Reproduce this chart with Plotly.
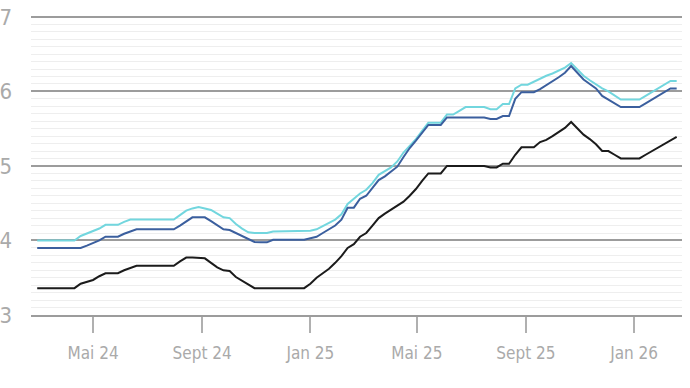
import pandas as pd
import plotly.graph_objects as go

# Weekly observations (starting 28 Feb 2024)
start_date = "2024-02-28"
n_weeks = 104
dates = pd.date_range(start_date, periods=n_weeks, freq="7D")

black_vals = [
    3.36, 3.36, 3.36, 3.36, 3.36, 3.36, 3.36, 3.42, 3.45, 3.47,
    3.52, 3.56, 3.56, 3.56, 3.60, 3.63, 3.66, 3.66, 3.66, 3.66,
    3.66, 3.66, 3.66, 3.72, 3.77, 3.77, 3.77, 3.76, 3.70, 3.64,
    3.60, 3.59, 3.51, 3.46, 3.41, 3.36, 3.36, 3.36, 3.36, 3.36,
    3.36, 3.36, 3.36, 3.36, 3.42, 3.50, 3.56, 3.62, 3.70, 3.79,
    3.90, 3.95, 4.05, 4.10, 4.20, 4.30, 4.36, 4.41, 4.46, 4.52,
    4.60, 4.69, 4.80, 4.90, 4.90, 4.90, 5.00, 5.00, 5.00, 5.00,
    5.00, 5.00, 5.00, 4.98, 4.98, 5.03, 5.03, 5.15, 5.25, 5.25,
    5.25, 5.32, 5.35, 5.40, 5.45, 5.51, 5.59, 5.50, 5.42, 5.36,
    5.29, 5.20, 5.20, 5.15, 5.10, 5.10, 5.10, 5.10, 5.15, 5.20,
    5.25, 5.30, 5.35, 5.39,
]

blue_vals = [
    3.90, 3.90, 3.90, 3.90, 3.90, 3.90, 3.90, 3.90, 3.93, 3.96,
    4.00, 4.05, 4.05, 4.05, 4.09, 4.12, 4.15, 4.15, 4.15, 4.15,
    4.15, 4.15, 4.15, 4.20, 4.26, 4.31, 4.31, 4.31, 4.26, 4.20,
    4.15, 4.14, 4.10, 4.06, 4.02, 3.98, 3.975, 3.975, 4.01, 4.01,
    4.01, 4.01, 4.01, 4.01, 4.03, 4.05, 4.10, 4.15, 4.20, 4.28,
    4.44, 4.44, 4.56, 4.60, 4.70, 4.81, 4.86, 4.92, 4.99, 5.12,
    5.24, 5.34, 5.45, 5.55, 5.55, 5.55, 5.65, 5.65, 5.65, 5.65,
    5.65, 5.65, 5.65, 5.63, 5.63, 5.67, 5.67, 5.90, 5.99, 5.99,
    5.99, 6.03, 6.08, 6.14, 6.19, 6.25, 6.34, 6.25, 6.16, 6.10,
    6.04, 5.94, 5.89, 5.84, 5.79, 5.79, 5.79, 5.79, 5.84, 5.89,
    5.94, 5.99, 6.04, 6.04,
]

cyan_vals = [
    4.00, 4.00, 4.00, 4.00, 4.00, 4.00, 4.00, 4.06, 4.09, 4.12,
    4.16, 4.21, 4.21, 4.21, 4.25, 4.28, 4.28, 4.28, 4.28, 4.28,
    4.28, 4.28, 4.28, 4.34, 4.40, 4.43, 4.45, 4.43, 4.41, 4.36,
    4.31, 4.30, 4.22, 4.16, 4.11, 4.10, 4.10, 4.10, 4.12, 4.12,
    4.12, 4.12, 4.12, 4.12, 4.13, 4.15, 4.19, 4.23, 4.28, 4.35,
    4.49, 4.56, 4.63, 4.68, 4.77, 4.88, 4.93, 4.98, 5.06, 5.18,
    5.27, 5.36, 5.47, 5.58, 5.58, 5.58, 5.69, 5.69, 5.74, 5.79,
    5.79, 5.79, 5.79, 5.76, 5.76, 5.83, 5.83, 6.04, 6.09, 6.09,
    6.13, 6.18, 6.21, 6.24, 6.28, 6.32, 6.38, 6.30, 6.21, 6.15,
    6.09, 6.04, 6.00, 5.95, 5.89, 5.89, 5.89, 5.89, 5.94, 5.99,
    6.04, 6.09, 6.14, 6.14,
]

x_tick_vals = ["2024-05-01", "2024-09-01", "2025-01-01", "2025-05-01", "2025-09-01", "2026-01-01"]
x_tick_text = ["Mai 24", "Sept 24", "Jan 25", "Mai 25", "Sept 25", "Jan 26"]
y_tick_vals = [3, 4, 5, 6, 7]
y_tick_text = ["3", "4", "5", "6", "7"]

FONT = "DejaVu Sans Condensed, Roboto, sans-serif"

fig = go.Figure()
fig.add_trace(go.Scatter(x=dates, y=cyan_vals, mode="lines",
                         line=dict(color="#72d6de", width=2), name="cyan"))
fig.add_trace(go.Scatter(x=dates, y=blue_vals, mode="lines",
                         line=dict(color="#3b5f9e", width=2), name="blue"))
fig.add_trace(go.Scatter(x=dates, y=black_vals, mode="lines",
                         line=dict(color="#1b1b1b", width=2), name="black"))

fig.update_layout(
    width=690, height=388,
    margin=dict(l=31, r=8, t=15, b=73),
    paper_bgcolor="white", plot_bgcolor="white",
    showlegend=False,
    font=dict(family=FONT, size=17, color="#aaaaaa"),
)
fig.update_xaxes(
    type="date",
    range=["2024-02-21", "2026-02-24"],
    tickvals=x_tick_vals, ticktext=x_tick_text,
    showgrid=False, zeroline=False, automargin=False,
    showline=True, linecolor="#9c9c9c", linewidth=1.5,
    ticks="outside", ticklen=16, tickwidth=1.5, tickcolor="#b0b0b0",
    ticklabelstandoff=6,
    tickfont=dict(family=FONT, size=17, color="#aaaaaa"),
)
fig.update_yaxes(
    range=[3, 7.025],
    tickvals=y_tick_vals, ticktext=y_tick_text,
    showgrid=True, gridcolor="#9c9c9c", gridwidth=1.5,
    zeroline=False, showline=False, automargin=False,
    ticks="", ticklabelstandoff=18,
    tickfont=dict(family=FONT, size=22, color="#aaaaaa"),
    minor=dict(dtick=0.1, showgrid=True, gridcolor="#eeeeee", gridwidth=1),
)

# remove the browser's default 8px body margin so the figure sits at the window origin
fig.write_html("out.html", config={"displayModeBar": False},
               post_script="document.body.style.margin='0';")
